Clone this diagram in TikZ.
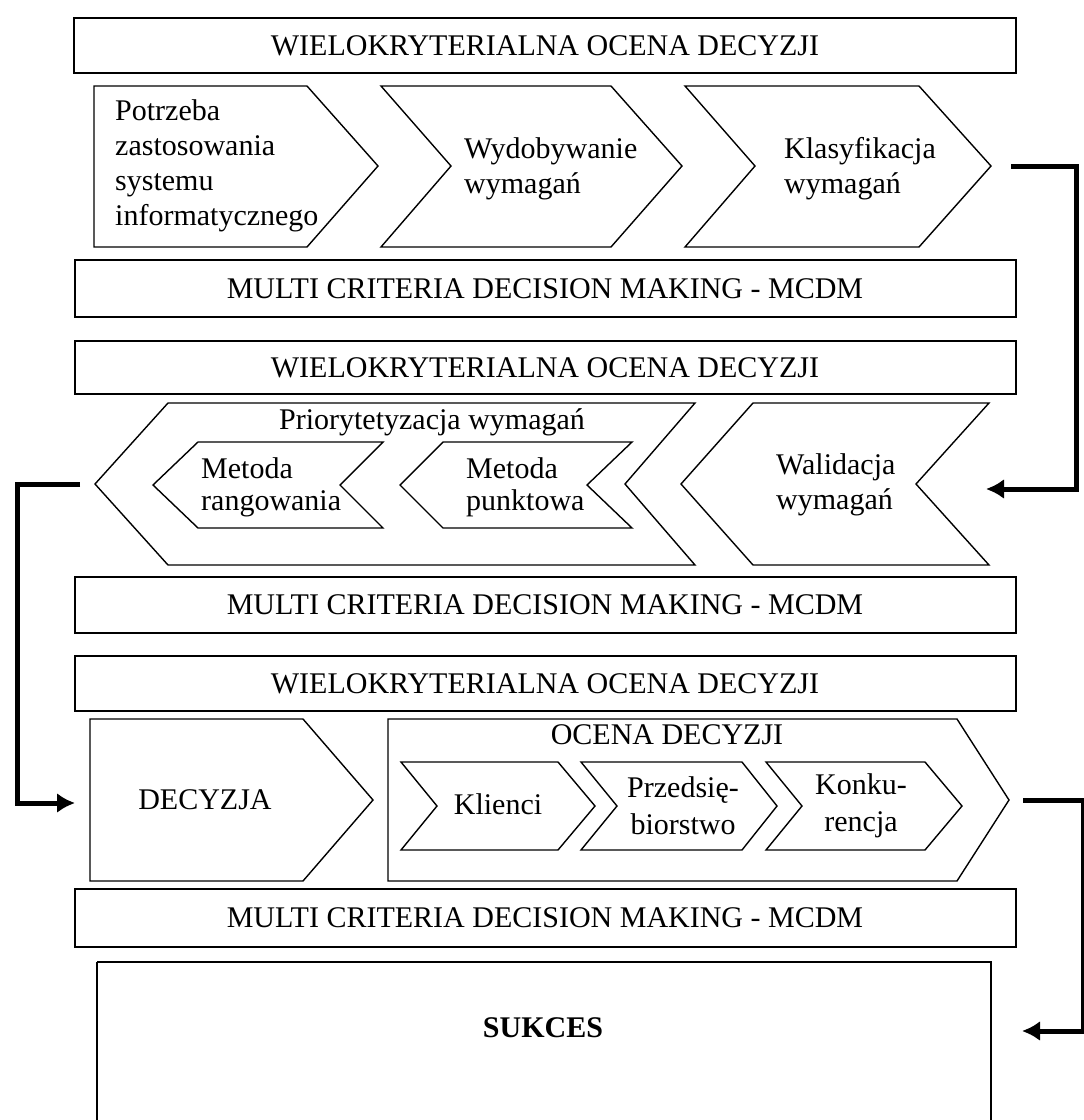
\documentclass[tikz,border=0pt]{standalone}
\usepackage{fontspec}
\setmainfont{Liberation Serif}
\usetikzlibrary{arrows.meta}
\begin{document}
\begin{tikzpicture}[x=1pt,y=-1pt,
  band/.style={draw=black,line width=2pt},
  chev/.style={draw=black,line width=1.4pt,line join=miter},
  lbl/.style={inner sep=0pt,font=\fontsize{30}{35}\selectfont},
  flow/.style={line width=5pt,-{Latex[length=18pt,width=20pt]}},
]
\useasboundingbox (0,0) rectangle (1084,1120);

% ---------- stage 1 ----------
\draw[band] (74,18) rectangle (1016,73);
\node[lbl] (wk1) at (545,45.5) {WIELOKRYTERIALNA OCENA DECYZJI};

\draw[chev] (94,86) -- (307,86) -- (378,166) -- (307,247) -- (94,247) -- cycle;
\draw[chev] (381,86) -- (611,86) -- (682,166) -- (611,247) -- (381,247) -- (451,166) -- cycle;
\draw[chev] (685,86) -- (919,86) -- (991,166) -- (919,247) -- (685,247) -- (755,166) -- cycle;
\node[lbl,align=left,anchor=west] (need) at (115,166)
  {Potrzeba\\zastosowania\\systemu\\informatycznego};
\node[lbl,align=left,anchor=west] (elic) at (464,169) {Wydobywanie\\wymagań};
\node[lbl,align=left,anchor=west] (clas) at (784,169) {Klasyfikacja\\wymagań};

\draw[band] (75,260) rectangle (1016,317);
\node[lbl] (mc1) at (545,288.5) {MULTI CRITERIA DECISION MAKING - MCDM};

% ---------- stage 2 ----------
\draw[band] (75,341) rectangle (1016,394);
\node[lbl] (wk2) at (545,367.5) {WIELOKRYTERIALNA OCENA DECYZJI};

\draw[chev] (168,403) -- (695,403) -- (625,484) -- (695,565) -- (168,565) -- (95,484) -- cycle;
\draw[chev] (198,442) -- (383,442) -- (340,485) -- (383,528) -- (198,528) -- (153,485) -- cycle;
\draw[chev] (443,442) -- (632,442) -- (587,485) -- (632,528) -- (443,528) -- (400,485) -- cycle;
\draw[chev] (753,403) -- (989,403) -- (916,484) -- (989,565) -- (753,565) -- (681,484) -- cycle;
\node[lbl] (prio) at (432,422) {Priorytetyzacja wymagań};
\node[lbl,align=left,anchor=west,font=\fontsize{30}{32}\selectfont] (rank) at (201,487) {Metoda\\rangowania};
\node[lbl,align=left,anchor=west,font=\fontsize{30}{32}\selectfont] (point) at (466,487) {Metoda\\punktowa};
\node[lbl,align=left,anchor=west] (valid) at (776,485) {Walidacja\\wymagań};

\draw[band] (75,577) rectangle (1016,633);
\node[lbl] (mc2) at (545,605) {MULTI CRITERIA DECISION MAKING - MCDM};

% ---------- stage 3 ----------
\draw[band] (75,656) rectangle (1016,711);
\node[lbl] (wk3) at (545,683.5) {WIELOKRYTERIALNA OCENA DECYZJI};

\draw[chev] (90,719) -- (303,719) -- (373,800) -- (303,881) -- (90,881) -- cycle;
\draw[chev] (388,719) -- (957,719) -- (1009,800) -- (957,881) -- (388,881) -- cycle;
\draw[chev] (401,762) -- (558,762) -- (595,806) -- (558,850) -- (401,850) -- (437,806) -- cycle;
\draw[chev] (581,762) -- (742,762) -- (777,806) -- (742,850) -- (581,850) -- (617,806) -- cycle;
\draw[chev] (766,762) -- (925,762) -- (962,806) -- (925,850) -- (766,850) -- (802,806) -- cycle;
\node[lbl] (dec) at (205,800) {DECYZJA};
\node[lbl] (eval) at (667,735) {OCENA DECYZJI};
\node[lbl] (cust) at (498,804) {Klienci};
\node[lbl,align=center,font=\fontsize{30}{37}\selectfont] (firm) at (683,806) {Przedsię-\\biorstwo};
\node[lbl,align=center,font=\fontsize{30}{37}\selectfont] (comp) at (861,806) {Konku-\\rencja};

\draw[band] (75,889) rectangle (1016,947);
\node[lbl] (mc3) at (545,918) {MULTI CRITERIA DECISION MAKING - MCDM};

% ---------- result ----------
\draw[band] (97,962) -- (97,1130) (97,962) -- (991,962) -- (991,1130);
\node[lbl,font=\bfseries\fontsize{30}{35}\selectfont] (succ) at (543,1028) {SUKCES};

% ---------- flow between stages ----------
\coordinate (clasOut) at (1011,166);
\coordinate (validIn) at (986,489);
\coordinate (busR) at (1076,0);
\coordinate (prioOut) at (80,484);
\coordinate (decIn) at (75,803);
\coordinate (busL) at (17,0);
\coordinate (evalOut) at (1023,800);
\coordinate (succIn) at (1022,1031);
\coordinate (busE) at (1083,0);

\draw[flow] (clasOut) -| (busR |- validIn) -- (validIn);
\draw[flow] (prioOut) -| (busL |- decIn) -- (decIn);
\draw[flow] (evalOut) -| (busE |- succIn) -- (succIn);
\end{tikzpicture}
\end{document}
